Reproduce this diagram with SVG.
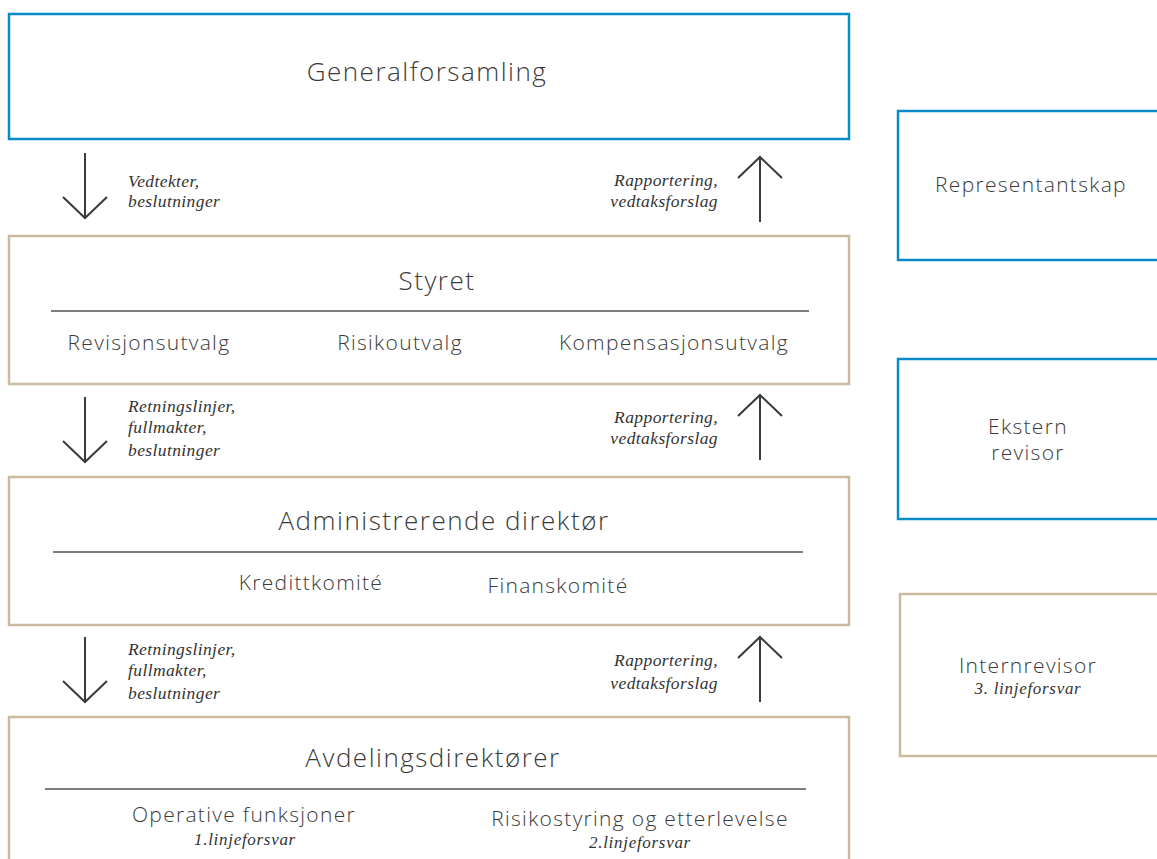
<svg xmlns="http://www.w3.org/2000/svg" width="1157" height="859" viewBox="0 0 1157 859">
<style>
.blue{fill:#fff;stroke:#0a8bc6;stroke-width:2.5}
.tan{fill:#fff;stroke:#c9baa0;stroke-width:2.5}
.div{stroke:#555;stroke-width:1.3}
.t{font-family:"Open Sans","Noto Sans",sans-serif;font-weight:300;fill:#3a3a3a;text-anchor:middle}
.big{font-size:26px;letter-spacing:1.5px}
.mid{font-size:21px;letter-spacing:1.3px}
.i{font-family:"Liberation Serif","DejaVu Serif",serif;font-style:italic;font-size:17.5px;letter-spacing:0.4px;fill:#333}
.ir{text-anchor:end}
.ic{text-anchor:middle;font-size:17px;letter-spacing:0.7px}
.arr{stroke:#3a3a3a;stroke-width:2;fill:none}
</style>
<rect width="1157" height="859" fill="#fff"/>
<g id="generalforsamling"><rect class="blue" x="9" y="14" width="840" height="125"/><text class="t big" x="427" y="81">Generalforsamling</text></g>
<g id="representantskap"><rect class="blue" x="898" y="111" width="270" height="149"/><text class="t mid" x="1031" y="192">Representantskap</text></g>
<g id="ekstern"><rect class="blue" x="898" y="359" width="270" height="160"/><text class="t mid" x="1028" y="434">Ekstern</text><text class="t mid" x="1028" y="460">revisor</text></g>
<g id="internrevisor"><rect class="tan" x="900" y="594" width="270" height="162"/><text class="t mid" x="1028" y="673">Internrevisor</text><text class="i ic" x="1028" y="694">3. linjeforsvar</text></g>
<g id="styret"><rect class="tan" x="9" y="236" width="840" height="148"/><text class="t big" x="437" y="290">Styret</text><line class="div" x1="51" y1="311" x2="809" y2="311"/>
<text class="t mid" x="149" y="350">Revisjonsutvalg</text><text class="t mid" x="400" y="350">Risikoutvalg</text><text class="t mid" x="674" y="350">Kompensasjonsutvalg</text></g>
<g id="adm"><rect class="tan" x="9" y="477" width="840" height="148"/><text class="t big" x="444" y="530">Administrerende direktør</text><line class="div" x1="53" y1="552" x2="803" y2="552"/>
<text class="t mid" x="311" y="590">Kredittkomité</text><text class="t mid" x="558" y="593">Finanskomité</text></g>
<g id="avd"><rect class="tan" x="9" y="717" width="840" height="160"/><text class="t big" x="433" y="767">Avdelingsdirektører</text><line class="div" x1="45" y1="789" x2="806" y2="789"/>
<text class="t mid" x="244" y="822">Operative funksjoner</text><text class="i ic" x="245" y="845">1.linjeforsvar</text>
<text class="t mid" x="640" y="826">Risikostyring og etterlevelse</text><text class="i ic" x="640" y="848">2.linjeforsvar</text></g>
<g id="connectors">
<path class="arr" d="M85 153V218M63 197L85 218L107 197"/>
<path class="arr" d="M760 222V157M738 178L760 157L782 178"/>
<path class="arr" d="M85 397V462M63 441L85 462L107 441"/>
<path class="arr" d="M760 460V395M738 416L760 395L782 416"/>
<path class="arr" d="M85 637V702M63 681L85 702L107 681"/>
<path class="arr" d="M760 702V637M738 658L760 637L782 658"/>
<text class="i" x="128" y="187">Vedtekter,</text><text class="i" x="128" y="207">beslutninger</text>
<text class="i ir" x="718" y="186">Rapportering,</text><text class="i ir" x="718" y="207">vedtaksforslag</text>
<text class="i" x="128" y="412">Retningslinjer,</text><text class="i" x="128" y="433">fullmakter,</text><text class="i" x="128" y="456">beslutninger</text>
<text class="i ir" x="718" y="423">Rapportering,</text><text class="i ir" x="718" y="444">vedtaksforslag</text>
<text class="i" x="128" y="655">Retningslinjer,</text><text class="i" x="128" y="676">fullmakter,</text><text class="i" x="128" y="699">beslutninger</text>
<text class="i ir" x="718" y="666">Rapportering,</text><text class="i ir" x="718" y="689">vedtaksforslag</text>
</g>
</svg>
